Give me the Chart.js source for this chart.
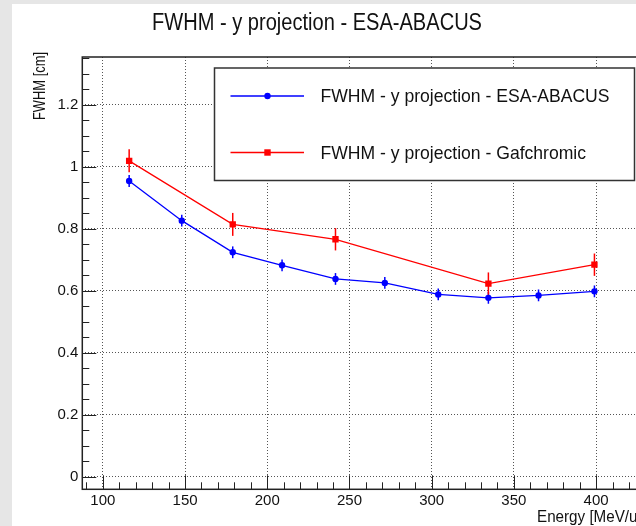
<!DOCTYPE html>
<html><head><meta charset="utf-8">
<script src="https://cdn.jsdelivr.net/npm/chart.js@4.4.0/dist/chart.umd.min.js"></script>
<style>
html,body{margin:0;padding:0;background:#e6e6e6;overflow:hidden;}
#wrap{position:absolute;left:0;top:0;width:636px;height:526px;overflow:hidden;background:#e6e6e6;}
#panel{position:absolute;left:12px;top:4px;width:700px;height:522px;background:#ffffff;}
#c{position:absolute;left:0;top:0;}
</style></head><body>
<div id="wrap"><div id="panel"></div><canvas id="c" width="680" height="526" style="width:680px;height:526px"></canvas></div>
<script>
// ---- data ----
const titleText = 'FWHM - y projection - ESA-ABACUS';
const seriesNames = ['FWHM - y projection - ESA-ABACUS', 'FWHM - y projection - Gafchromic'];
const xAxisTitle = 'Energy [MeV/u]';
const yAxisTitle = 'FWHM [cm]';

const energyAbacus = [116, 148, 179, 209, 241.5, 271.5, 304, 334.5, 365, 399];
const fwhmAbacus   = [0.954, 0.826, 0.724, 0.682, 0.638, 0.625, 0.588, 0.577, 0.585, 0.598];
const errAbacus    = [0.019, 0.019, 0.019, 0.019, 0.019, 0.019, 0.019, 0.019, 0.019, 0.019];

const energyGaf = [116, 179, 241.5, 334.5, 399];
const fwhmGaf   = [1.019, 0.814, 0.766, 0.623, 0.684];
const errGaf    = [0.037, 0.037, 0.036, 0.036, 0.036];

const xTicks = [100, 150, 200, 250, 300, 350, 400];
const xTickLabels = ['100', '150', '200', '250', '300', '350', '400'];
const yTicks = [0, 0.2, 0.4, 0.6, 0.8, 1, 1.2];
const yTickLabels = ['0', '0.2', '0.4', '0.6', '0.8', '1', '1.2'];

const FONT = "'Liberation Sans', Arial, Helvetica, sans-serif";
const W = 680;

function textScale(ctx, text, size, target) {
  ctx.save();
  ctx.font = size + 'px ' + FONT;
  const w = ctx.measureText(text).width;
  ctx.restore();
  return target / w;
}

function drawText(ctx, text, x, y, size, s, align, rot) {
  ctx.save();
  ctx.font = size + 'px ' + FONT;
  ctx.translate(x, y);
  if (rot) ctx.rotate(rot);
  ctx.scale(s, 1);
  ctx.textAlign = align;
  ctx.textBaseline = 'alphabetic';
  ctx.fillStyle = '#111';
  ctx.fillText(text, 0, 0);
  ctx.restore();
}

const errorBars = {
  id: 'errorBars',
  beforeDatasetsDraw(chart) {
    const ctx = chart.ctx, ys = chart.scales.y;
    chart.data.datasets.forEach((ds, di) => {
      const meta = chart.getDatasetMeta(di);
      ctx.save();
      ctx.strokeStyle = ds.borderColor;
      ctx.lineWidth = 1.5;
      meta.data.forEach((pt, i) => {
        const v = ds.data[i].y, e = ds.errors[i];
        ctx.beginPath();
        ctx.moveTo(pt.x, ys.getPixelForValue(v - e));
        ctx.lineTo(pt.x, ys.getPixelForValue(v + e));
        ctx.stroke();
      });
      ctx.restore();
    });
  }
};

const frameAndDecor = {
  id: 'frameAndDecor',
  afterDraw(chart) {
    const ctx = chart.ctx, a = chart.chartArea;
    const xs = chart.scales.x, ys = chart.scales.y;
    ctx.save();
    ctx.strokeStyle = '#222';
    ctx.lineWidth = 1;
    ctx.beginPath();
    for (let k = 0; k * 0.05 <= ys.max + 1e-9; k++) {
      const v = k * 0.05;
      const p = Math.round(ys.getPixelForValue(v)) + 0.5;
      const len = (k % 4 === 0) ? 14 : 7;
      ctx.moveTo(a.left, p); ctx.lineTo(a.left + len, p);
    }
    for (let v = 90; v <= xs.max; v += 10) {
      const p = Math.round(xs.getPixelForValue(v)) + 0.5;
      const len = (v % 50 === 0) ? 14 : 7;
      ctx.moveTo(p, a.bottom); ctx.lineTo(p, a.bottom - len);
    }
    ctx.stroke();
    ctx.lineWidth = 1.5;
    ctx.strokeStyle = '#222';
    ctx.strokeRect(a.left, a.top, a.right - a.left, a.bottom - a.top);
    ctx.restore();

    // legend
    ctx.save();
    ctx.fillStyle = '#fff';
    ctx.fillRect(214.5, 68, 420, 112.5);
    ctx.strokeStyle = '#333';
    ctx.lineWidth = 1.5;
    ctx.strokeRect(214.5, 68, 420, 112.5);
    const rows = [96, 152.5];
    const ls = textScale(ctx, seriesNames[0], 18.5, 289);
    chart.data.datasets.forEach((ds, i) => {
      const y = rows[i];
      ctx.strokeStyle = ds.borderColor;
      ctx.lineWidth = 1.3;
      ctx.beginPath(); ctx.moveTo(230.5, y); ctx.lineTo(304, y); ctx.stroke();
      ctx.fillStyle = ds.borderColor;
      if (ds.pointStyle === 'rect') {
        ctx.fillRect(267.5 - 3.2, y - 3.2, 6.4, 6.4);
      } else {
        ctx.beginPath(); ctx.arc(267.5, y, 3.2, 0, Math.PI * 2); ctx.fill();
      }
      drawText(ctx, seriesNames[i], 320.5, y + 6.2, 18.5, ls, 'left', 0);
    });
    ctx.restore();

    // titles
    drawText(ctx, titleText, 317, 30, 23, textScale(ctx, titleText, 23, 330), 'center', 0);
    drawText(ctx, xAxisTitle, 537, 522, 16, 0.95, 'left', 0);
    drawText(ctx, yAxisTitle, 45, 52, 17, textScale(ctx, yAxisTitle, 17, 68), 'right', -Math.PI / 2);
  }
};

const tickFont = { family: FONT, size: 15 };

new Chart(document.getElementById('c'), {
  type: 'line',
  data: {
    datasets: [
      {
        label: seriesNames[0],
        data: energyAbacus.map((x, i) => ({ x, y: fwhmAbacus[i] })),
        errors: errAbacus,
        borderColor: '#0000ff', backgroundColor: '#0000ff',
        borderWidth: 1.3, pointStyle: 'circle', pointRadius: 3.2, pointBorderWidth: 0,
        tension: 0, fill: false
      },
      {
        label: seriesNames[1],
        data: energyGaf.map((x, i) => ({ x, y: fwhmGaf[i] })),
        errors: errGaf,
        borderColor: '#ff0000', backgroundColor: '#ff0000',
        borderWidth: 1.3, pointStyle: 'rect', pointRadius: 4.5, pointBorderWidth: 0,
        tension: 0, fill: false
      }
    ]
  },
  options: {
    responsive: false, animation: false, devicePixelRatio: 1,
    layout: { padding: { left: 0, top: 57, right: W - 645.4, bottom: 0 } },
    plugins: { legend: { display: false }, title: { display: false }, tooltip: { enabled: false } },
    scales: {
      x: {
        type: 'linear', min: 87.5, max: 430,
        afterBuildTicks: s => { s.ticks = xTicks.map(v => ({ value: v })); },
        afterFit: s => { s.height = 36.7; },
        grid: { color: '#555', lineWidth: 1, drawTicks: false },
        border: { display: false, dash: [1, 2] },
        ticks: { padding: 3, font: tickFont, color: '#111', maxRotation: 0, autoSkip: false,
                 callback: v => xTickLabels[xTicks.indexOf(v)] }
      },
      y: {
        type: 'linear', min: -0.0406, max: 1.354,
        afterBuildTicks: s => { s.ticks = yTicks.map(v => ({ value: v })); },
        afterFit: s => { s.width = 82.3; },
        grid: { color: '#555', lineWidth: 1, drawTicks: false },
        border: { display: false, dash: [1, 2] },
        ticks: { padding: 4, font: tickFont, color: '#111', autoSkip: false,
                 callback: v => yTickLabels[yTicks.indexOf(v)] }
      }
    }
  },
  plugins: [errorBars, frameAndDecor]
});
</script>
</body></html>
